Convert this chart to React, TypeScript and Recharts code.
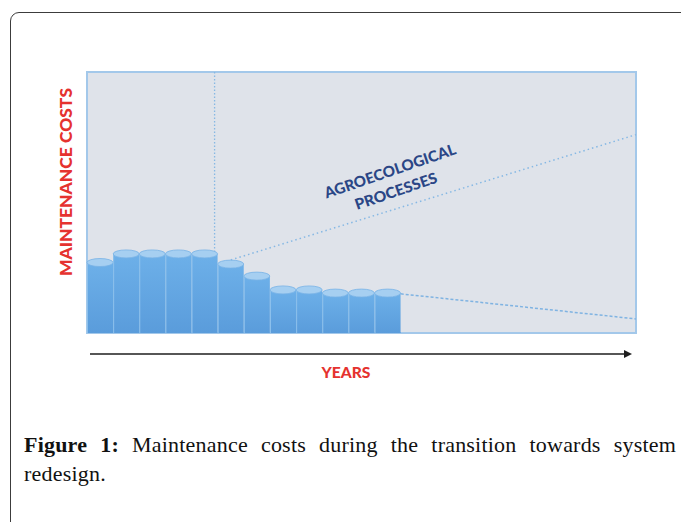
import React from 'react';
import {
  ComposedChart,
  Bar,
  Line,
  XAxis,
  YAxis,
  CartesianGrid,
  ReferenceArea,
} from 'recharts';

// ---- data ----
const years = [
  'Y1', 'Y2', 'Y3', 'Y4', 'Y5', 'Y6', 'Y7', 'Y8', 'Y9', 'Y10', 'Y11',
  'Y12', 'Y13', 'Y14', 'Y15', 'Y16', 'Y17', 'Y18', 'Y19', 'Y20', 'Y21',
];
const maintenanceCosts = [27, 30.3, 30.3, 30.3, 30.3, 26.4, 21.8, 16.5, 16.5, 15.3, 15.3, 15.3];
const agroecologicalTrend = [
  { x: 5.5, y: 28 },
  { x: 21, y: 76 },
];
const costTrend = [
  { x: 12, y: 15 },
  { x: 21, y: 5.4 },
];
const transitionMarker = [
  { x: 4.88, y: 100 },
  { x: 4.88, y: 30.3 },
];
const yDomain = [0, 100];
const xDomain = [0, 21];

const chartData = years.map((year, i) => ({
  year,
  cost: i < maintenanceCosts.length ? maintenanceCosts[i] : null,
}));

const Cylinder = (props: any) => {
  const { x, y, width, height, index } = props;
  if (height == null || height <= 0) return null;
  const cx = x + width / 2;
  const rx = width / 2;
  const ry = 4;
  const sunk = index >= 9;
  return (
    <g>
      {sunk && (
        <ellipse cx={cx} cy={y + height} rx={rx} ry={ry} fill="#5a9dda" />
      )}
      <rect x={x} y={y} width={width} height={height} fill="url(#cylGrad)" />
      <line x1={x + 0.5} y1={y} x2={x + 0.5} y2={y + height} stroke="#8cc0ec" strokeWidth={1} />
      <ellipse cx={cx} cy={y} rx={rx} ry={ry} fill="#a6cff1" stroke="#78b3e6" strokeWidth={0.8} />
    </g>
  );
};

const labelFont = "Lato, 'Open Sans', sans-serif";

export default function App() {
  return (
    <div
      style={{
        position: 'fixed',
        left: 0,
        top: 0,
        width: 681,
        height: 522,
        overflow: 'hidden',
        background: '#ffffff',
      }}
    >
      <div
        style={{
          position: 'absolute',
          left: 10,
          top: 12,
          width: 720,
          height: 560,
          border: '1.5px solid #3c3c3c',
          borderRadius: 9,
        }}
      />
      <div style={{ position: 'absolute', left: 0, top: 0 }}>
        <ComposedChart
          width={681}
          height={522}
          data={chartData}
          margin={{ top: 72, right: 45, bottom: 189, left: 87 }}
          barCategoryGap={0}
          barGap={0}
        >
          <defs>
            <linearGradient id="cylGrad" x1="0" y1="0" x2="0" y2="1">
              <stop offset="0%" stopColor="#6db0e9" />
              <stop offset="100%" stopColor="#5a9cdb" />
            </linearGradient>
          </defs>
          <CartesianGrid fill="#dfe3ea" horizontal={false} vertical={false} />
          <XAxis xAxisId="cat" dataKey="year" type="category" hide />
          <XAxis
            xAxisId="num"
            dataKey="x"
            type="number"
            domain={xDomain}
            allowDataOverflow
            hide
          />
          <YAxis domain={yDomain} type="number" allowDataOverflow hide />
          <ReferenceArea
            xAxisId="num"
            x1={xDomain[0]}
            x2={xDomain[1]}
            y1={yDomain[0]}
            y2={yDomain[1]}
            fill="none"
            stroke="#a3c8ea"
            strokeWidth={2}
          />
          <Line
            xAxisId="num"
            data={transitionMarker}
            dataKey="y"
            type="linear"
            stroke="#86b8e4"
            strokeWidth={1.3}
            strokeDasharray="1.5 2"
            dot={false}
            activeDot={false}
            isAnimationActive={false}
          />
          <Bar
            xAxisId="cat"
            dataKey="cost"
            shape={<Cylinder />}
            isAnimationActive={false}
          />
          <Line
            xAxisId="num"
            data={agroecologicalTrend}
            dataKey="y"
            type="linear"
            stroke="#86b8e4"
            strokeWidth={1.5}
            strokeDasharray="1.5 3"
            dot={false}
            activeDot={false}
            isAnimationActive={false}
          />
          <Line
            xAxisId="num"
            data={costTrend}
            dataKey="y"
            type="linear"
            stroke="#7fb3e2"
            strokeWidth={1.5}
            strokeDasharray="3 2"
            dot={false}
            activeDot={false}
            isAnimationActive={false}
          />
        </ComposedChart>
      </div>
      <svg
        width={681}
        height={522}
        style={{ position: 'absolute', left: 0, top: 0, pointerEvents: 'none' }}
      >
        <text
          x={0}
          y={0}
          transform="translate(66,182) rotate(-90)"
          textAnchor="middle"
          dy="0.36em"
          fill="#e5322f"
          fontFamily={labelFont}
          fontWeight={900}
          fontSize={16.5}
          textLength={188}
          lengthAdjust="spacingAndGlyphs"
        >
          MAINTENANCE COSTS
        </text>
        <line x1={90} y1={354} x2={626} y2={354} stroke="#1e1e1e" strokeWidth={1.6} />
        <polygon points="632,354 624,350 624,358" fill="#1e1e1e" />
        <text
          x={346}
          y={373}
          textAnchor="middle"
          dy="0.36em"
          fill="#e5322f"
          fontFamily={labelFont}
          fontWeight={900}
          fontSize={15}
          textLength={49}
          lengthAdjust="spacingAndGlyphs"
        >
          YEARS
        </text>
        <text
          x={0}
          y={0}
          transform="translate(390,171) rotate(-19)"
          textAnchor="middle"
          dy="0.36em"
          fill="#2a4686"
          fontFamily={labelFont}
          fontWeight={900}
          fontSize={15}
          textLength={138}
          lengthAdjust="spacingAndGlyphs"
        >
          AGROECOLOGICAL
        </text>
        <text
          x={0}
          y={0}
          transform="translate(396,191) rotate(-19)"
          textAnchor="middle"
          dy="0.36em"
          fill="#2a4686"
          fontFamily={labelFont}
          fontWeight={900}
          fontSize={15}
          textLength={86}
          lengthAdjust="spacingAndGlyphs"
        >
          PROCESSES
        </text>
      </svg>
      <div
        style={{
          position: 'absolute',
          left: 24,
          top: 430,
          width: 652,
          fontFamily: "'Liberation Serif', 'Times New Roman', serif",
          fontSize: 22,
          letterSpacing: 0.2,
          lineHeight: '29px',
          color: '#111',
        }}
      >
        <div style={{ textAlign: 'justify', textAlignLast: 'justify' }}>
          <b>Figure 1:</b> Maintenance costs during the transition towards system
        </div>
        <div>redesign.</div>
      </div>
    </div>
  );
}
